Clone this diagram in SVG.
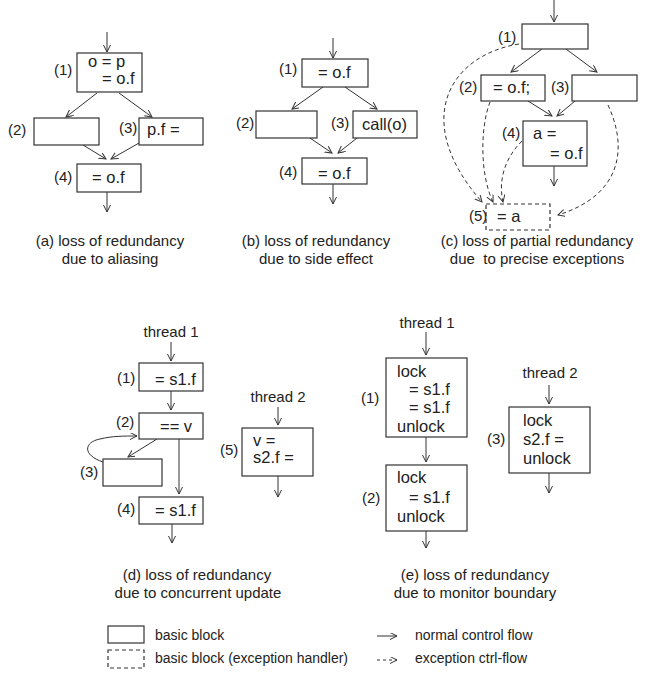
<svg xmlns="http://www.w3.org/2000/svg" width="653" height="674" viewBox="0 0 653 674">
<defs>
<marker id="ah" markerUnits="userSpaceOnUse" markerWidth="10" markerHeight="10" refX="7" refY="3.5" orient="auto">
<path d="M0,0 L7,3.5 L0,7" fill="none" stroke="#333" stroke-width="1"/>
</marker>
<style>
.b{fill:#fff;stroke:#333;stroke-width:1.2}
.d{fill:#fff;stroke:#333;stroke-width:1.2;stroke-dasharray:4,3}
.e{fill:none;stroke:#333;stroke-width:1;marker-end:url(#ah)}
.x{fill:none;stroke:#333;stroke-width:1;stroke-dasharray:4,3;marker-end:url(#ah)}
text{font-family:"Liberation Sans",Arial,sans-serif;fill:#222}
.t{font-size:16.5px}
.l{font-size:15px}
.c{font-size:15px;text-anchor:middle}
.g{font-size:14px}
</style>
</defs>
<rect width="653" height="674" fill="#fff"/>

<g id="connectors">
<!-- (a) -->
<line class="e" x1="107" y1="32" x2="107" y2="52"/>
<line class="e" x1="97" y1="93" x2="66" y2="117"/>
<line class="e" x1="119" y1="93" x2="152" y2="117"/>
<line class="e" x1="83" y1="145" x2="106" y2="159"/>
<line class="e" x1="139" y1="143" x2="111" y2="159"/>
<line class="e" x1="107" y1="192" x2="107" y2="212"/>
<!-- (b) -->
<line class="e" x1="333" y1="38" x2="333" y2="58"/>
<line class="e" x1="323" y1="87" x2="292" y2="109"/>
<line class="e" x1="345" y1="87" x2="377" y2="109"/>
<line class="e" x1="310" y1="138" x2="332" y2="153"/>
<line class="e" x1="357" y1="138" x2="338" y2="153"/>
<line class="e" x1="333" y1="184" x2="333" y2="204"/>
<!-- (c) -->
<line class="e" x1="554" y1="0" x2="554" y2="22"/>
<line class="e" x1="542" y1="49" x2="511" y2="72"/>
<line class="e" x1="566" y1="49" x2="597" y2="72"/>
<line class="e" x1="528" y1="101" x2="552" y2="116"/>
<line class="e" x1="575" y1="101" x2="557" y2="116"/>
<line class="e" x1="554" y1="166" x2="554" y2="186"/>
<path class="x" d="M519,44 C450,55 410,120 482,202"/>
<path class="x" d="M490,102 C480,128 480,175 493,202"/>
<path class="x" d="M522,141 C505,158 498,180 503,202"/>
<path class="x" d="M608,105 C628,148 622,195 558,215"/>
<!-- (d) -->
<line class="e" x1="171" y1="342" x2="171" y2="361"/>
<line class="e" x1="171" y1="391" x2="171" y2="410"/>
<line class="e" x1="157" y1="439" x2="128" y2="457"/>
<line class="e" x1="179" y1="439" x2="179" y2="494"/>
<path class="e" d="M103,462 C82,455 84,442 100,439 C112,436 124,436 137,436"/>
<line class="e" x1="172" y1="524" x2="172" y2="543"/>
<line class="e" x1="278" y1="407" x2="278" y2="425"/>
<line class="e" x1="278" y1="476" x2="278" y2="497"/>
<!-- (e) -->
<line class="e" x1="426" y1="332" x2="426" y2="355"/>
<line class="e" x1="426" y1="437" x2="426" y2="462"/>
<line class="e" x1="426" y1="531" x2="426" y2="548"/>
<line class="e" x1="549" y1="385" x2="549" y2="404"/>
<line class="e" x1="549" y1="473" x2="549" y2="493"/>
<!-- legend -->
<line class="e" x1="377" y1="636" x2="397" y2="636"/>
<line class="x" x1="377" y1="660" x2="397" y2="660" style="stroke-dasharray:3,3"/>
</g>

<!-- (a) -->
<g id="a1"><rect class="b" x="77" y="53" width="65" height="39"/><text class="l" x="54" y="75">(1)</text><text class="t" x="88" y="67">o = p</text><text class="t" x="102" y="84">= o.f</text></g>
<g id="a2"><rect class="b" x="34" y="118" width="65" height="27"/><text class="l" x="8" y="135">(2)</text></g>
<g id="a3"><rect class="b" x="139" y="118" width="64" height="27"/><text class="l" x="119" y="133">(3)</text><text class="t" x="147" y="135">p.f =</text></g>
<g id="a4"><rect class="b" x="77" y="164" width="64" height="28"/><text class="l" x="54" y="182">(4)</text><text class="t" x="92" y="183">= o.f</text></g>
<g id="capA"><text class="c" x="110" y="246">(a) loss of redundancy</text><text class="c" x="110" y="264">due to aliasing</text></g>

<!-- (b) -->
<g id="b1"><rect class="b" x="302" y="59" width="66" height="28"/><text class="l" x="279" y="74">(1)</text><text class="t" x="318" y="78">= o.f</text></g>
<g id="b2"><rect class="b" x="256" y="111" width="61" height="27"/><text class="l" x="236" y="128">(2)</text></g>
<g id="b3"><rect class="b" x="353" y="111" width="64" height="27"/><text class="l" x="331" y="128">(3)</text><text class="t" x="362" y="130">call(o)</text></g>
<g id="b4"><rect class="b" x="302" y="158" width="65" height="26"/><text class="l" x="279" y="177">(4)</text><text class="t" x="318" y="179">= o.f</text></g>
<g id="capB"><text class="c" x="316" y="246">(b) loss of redundancy</text><text class="c" x="316" y="264">due to side effect</text></g>

<!-- (c) -->
<g id="c1"><rect class="b" x="522" y="24" width="66" height="25"/><text class="l" x="498" y="42">(1)</text></g>
<g id="c2"><rect class="b" x="481" y="75" width="64" height="26"/><text class="l" x="459" y="92">(2)</text><text class="t" x="493" y="93">= o.f;</text></g>
<g id="c3"><rect class="b" x="572" y="75" width="65" height="26"/><text class="l" x="551" y="92">(3)</text></g>
<g id="c4"><rect class="b" x="523" y="121" width="64" height="45"/><text class="l" x="502" y="138">(4)</text><text class="t" x="533" y="139">a =</text><text class="t" x="550" y="159">= o.f</text></g>
<g id="c5"><rect class="d" x="486" y="204" width="64" height="26"/><text class="l" x="469" y="221">(5)</text><text class="t" x="497" y="222">= a</text></g>
<g id="capC"><text class="c" x="537" y="246">(c) loss of partial redundancy</text><text class="c" x="537" y="264" xml:space="preserve">due  to precise exceptions</text></g>

<!-- (d) -->
<g id="d1"><text class="l" x="171" y="337" text-anchor="middle">thread 1</text><rect class="b" x="139" y="363" width="64" height="28"/><text class="l" x="117" y="383">(1)</text><text class="t" x="155" y="385">= s1.f</text></g>
<g id="d2"><rect class="b" x="139" y="413" width="64" height="26"/><text class="l" x="116" y="427">(2)</text><text class="t" x="160" y="432">== v</text></g>
<g id="d3"><rect class="b" x="103" y="459" width="59" height="27"/><text class="l" x="80" y="477">(3)</text></g>
<g id="d4"><rect class="b" x="139" y="497" width="64" height="27"/><text class="l" x="117" y="514">(4)</text><text class="t" x="155" y="516">= s1.f</text></g>
<g id="d5"><text class="l" x="278" y="402" text-anchor="middle">thread 2</text><rect class="b" x="242" y="428" width="71" height="48"/><text class="l" x="220" y="455">(5)</text><text class="t" x="253" y="446">v =</text><text class="t" x="253" y="463">s2.f =</text></g>
<g id="capD"><text class="c" x="197" y="580">(d) loss of redundancy</text><text class="c" x="198" y="598">due to concurrent update</text></g>

<!-- (e) -->
<g id="e1"><text class="l" x="427" y="328" text-anchor="middle">thread 1</text><rect class="b" x="386" y="358" width="81" height="79"/><text class="l" x="361" y="403">(1)</text><text class="t" x="397" y="377">lock</text><text class="t" x="409" y="395">= s1.f</text><text class="t" x="409" y="413">= s1.f</text><text class="t" x="397" y="432">unlock</text></g>
<g id="e2"><rect class="b" x="386" y="465" width="81" height="66"/><text class="l" x="362" y="503">(2)</text><text class="t" x="397" y="483">lock</text><text class="t" x="409" y="503">= s1.f</text><text class="t" x="397" y="522">unlock</text></g>
<g id="e3"><text class="l" x="550" y="378" text-anchor="middle">thread 2</text><rect class="b" x="509" y="407" width="81" height="66"/><text class="l" x="487" y="444">(3)</text><text class="t" x="523" y="426">lock</text><text class="t" x="523" y="445">s2.f =</text><text class="t" x="523" y="464">unlock</text></g>
<g id="capE"><text class="c" x="475" y="580">(e) loss of redundancy</text><text class="c" x="475" y="598">due to monitor boundary</text></g>

<!-- legend -->
<g id="legend">
<rect class="b" x="108" y="626" width="36" height="17"/>
<text class="g" x="155" y="640">basic block</text>
<rect class="d" x="108" y="650" width="36" height="18"/>
<text class="g" x="155" y="663">basic block (exception handler)</text>
<text class="g" x="415" y="640">normal control flow</text>
<text class="g" x="415" y="663">exception ctrl-flow</text>
</g>
</svg>
